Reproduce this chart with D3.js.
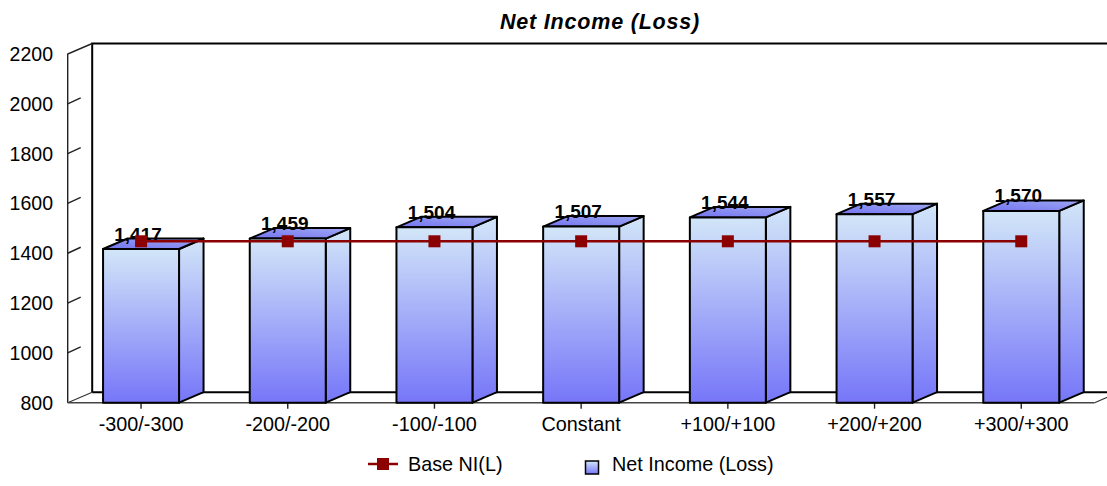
<!DOCTYPE html>
<html><head><meta charset="utf-8">
<script src="https://cdn.jsdelivr.net/npm/d3@7"></script>
<style>body{margin:0;background:#fff}svg{display:block}text{font-family:Arial,"Liberation Sans",sans-serif}</style>
</head><body><svg id="c" width="1107" height="486"></svg>
<script>
const categories = ["-300/-300","-200/-200","-100/-100","Constant","+100/+100","+200/+200","+300/+300"];
const netIncome = [1417,1459,1504,1507,1544,1557,1570];
const baseNI = [1448,1448,1448,1448,1448,1448,1448];
const yTicks = [800,1000,1200,1400,1600,1800,2000,2200];
const labels = ["1,417","1,459","1,504","1,507","1,544","1,557","1,570"];

const svg = d3.select("#c");
const dx = 24.5, dy = -10.5;
const x0 = 67.7, x1 = 1094.6;
const y = d3.scaleLinear().domain([800,2200]).range([402.7,54]);
const x = d3.scaleBand().domain(categories).range([x0,x1]).paddingInner(0.482).paddingOuter(0.241);

const defs = svg.append("defs");
const gF = defs.append("linearGradient").attr("id","gF").attr("x1",0).attr("y1",0).attr("x2",0).attr("y2",1);
gF.append("stop").attr("offset","0%").attr("stop-color","#d2e6f8");
gF.append("stop").attr("offset","100%").attr("stop-color","#7676f8");
const gT = defs.append("linearGradient").attr("id","gT").attr("x1",0).attr("y1",1).attr("x2",1).attr("y2",0);
gT.append("stop").attr("offset","0%").attr("stop-color","#7272f0");
gT.append("stop").attr("offset","100%").attr("stop-color","#9ea8f2");
const gL = defs.append("linearGradient").attr("id","gL").attr("x1",0).attr("y1",0).attr("x2",0).attr("y2",1);
gL.append("stop").attr("offset","0%").attr("stop-color","#d2e6f8");
gL.append("stop").attr("offset","100%").attr("stop-color","#7676f8");

// walls
const yb = y(800), yt = y(2200);
svg.append("path").attr("d",`M${x0+dx},${yb+dy} L${x0+dx},${yt+dy} L1120,${yt+dy}`)
  .attr("fill","none").attr("stroke","#000").attr("stroke-width",2);
svg.append("path").attr("d",`M${x0+dx},${yb+dy} L1120,${yb+dy}`).attr("fill","none").attr("stroke","#000").attr("stroke-width",2);
svg.append("path").attr("d",`M${x0},${yb} L${x0+dx},${yb+dy}`).attr("fill","none").attr("stroke","#333").attr("stroke-width",1.2);
svg.append("path").attr("d",`M${x1},${yb} L${x1+dx},${yb+dy}`).attr("fill","none").attr("stroke","#333").attr("stroke-width",1.2);
// left axis
svg.append("path").attr("d",`M${x0},${yb} L${x0},${yt} L${x0+dx},${yt+dy}`).attr("fill","none").attr("stroke","#222").attr("stroke-width",1.4);
yTicks.forEach(t=>{
  if(t!==2200 && t!==800) svg.append("line").attr("x1",x0).attr("y1",y(t)).attr("x2",x0+13).attr("y2",y(t)-6).attr("stroke","#222").attr("stroke-width",1.4);
  svg.append("text").attr("x",53).attr("y",y(t)+7).attr("text-anchor","end").attr("font-size",19.5).attr("fill","#000").text(t);
});
// bottom axis
svg.append("line").attr("x1",x0).attr("y1",yb).attr("x2",x1).attr("y2",yb).attr("stroke","#444").attr("stroke-width",1.6);
categories.forEach(c=>{
  const cx = x(c)+x.bandwidth()/2;
  svg.append("line").attr("x1",cx).attr("x2",cx).attr("y1",yb).attr("y2",yb+6).attr("stroke","#222").attr("stroke-width",1.4);
  svg.append("text").attr("x",cx).attr("y",431).attr("text-anchor","middle").attr("font-size",19.8).attr("fill","#000").text(c);
});

// bars
const bars = svg.append("g");
categories.forEach((c,i)=>{
  const bx = x(c), bw = x.bandwidth(), top = y(netIncome[i]);
  const g = bars.append("g").attr("stroke","#000").attr("stroke-width",2).attr("stroke-linejoin","round");
  g.append("path").attr("d",`M${bx+bw},${top} L${bx+bw+dx},${top+dy} L${bx+bw+dx},${yb+dy} L${bx+bw},${yb} Z`).attr("fill","url(#gL)");
  g.append("path").attr("d",`M${bx},${top} L${bx+dx},${top+dy} L${bx+bw+dx},${top+dy} L${bx+bw},${top} Z`).attr("fill","url(#gT)");
  g.append("rect").attr("x",bx).attr("y",top).attr("width",bw).attr("height",yb-top).attr("fill","url(#gF)");
});
// value labels
categories.forEach((c,i)=>{
  svg.append("text").attr("x",x(c)+x.bandwidth()/2-3).attr("y",y(netIncome[i])-8.5)
    .attr("text-anchor","middle").attr("font-size",19).attr("font-weight","bold").attr("fill","#000").text(labels[i]);
});
// base line
const line = d3.line().x((d,i)=>x(categories[i])+x.bandwidth()/2).y(d=>y(d));
svg.append("path").datum(baseNI).attr("d",line).attr("fill","none").attr("stroke","#8b0000").attr("stroke-width",2.5);
baseNI.forEach((v,i)=>{
  svg.append("rect").attr("x",x(categories[i])+x.bandwidth()/2-6).attr("y",y(v)-6).attr("width",12).attr("height",12).attr("fill","#8b0000");
});

// title
svg.append("text").attr("x",600).attr("y",29).attr("text-anchor","middle").attr("font-size",21.5).attr("font-weight","bold").attr("font-style","italic").attr("letter-spacing",0.8).text("Net Income (Loss)");

// legend
svg.append("line").attr("x1",368).attr("x2",398).attr("y1",464).attr("y2",464).attr("stroke","#8b0000").attr("stroke-width",2.5);
svg.append("rect").attr("x",377).attr("y",458).attr("width",12).attr("height",12).attr("fill","#8b0000");
svg.append("text").attr("x",408).attr("y",471).attr("font-size",19.8).text("Base NI(L)");
svg.append("rect").attr("x",585.5).attr("y",461).attr("width",13).attr("height",13).attr("fill","url(#gF)").attr("stroke","#000").attr("stroke-width",1.5);
svg.append("text").attr("x",612).attr("y",471).attr("font-size",19.8).text("Net Income (Loss)");
</script></body></html>
